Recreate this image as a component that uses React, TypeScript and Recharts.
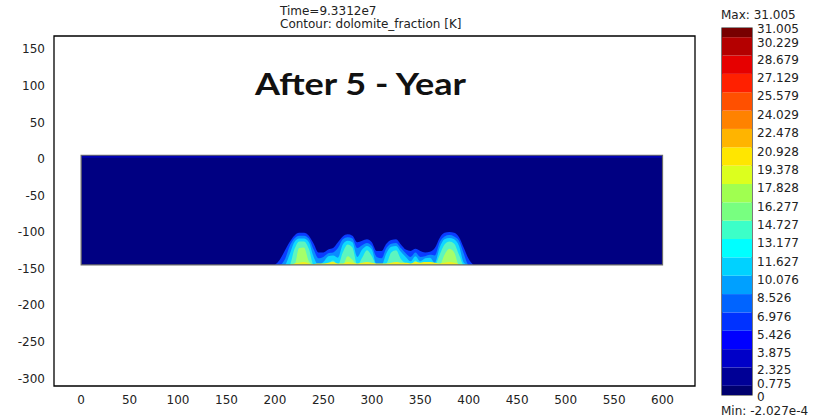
import React from "react";
import {
  Area,
  Bar,
  BarChart,
  ComposedChart,
  ReferenceArea,
  XAxis,
  YAxis,
} from "recharts";

// axes
const xTicks = [0, 50, 100, 150, 200, 250, 300, 350, 400, 450, 500, 550, 600];
const yTicks = [150, 100, 50, 0, -50, -100, -150, -200, -250, -300];

// model domain (dolomite_fraction field)
const fieldX = [0, 600];
const fieldY = [-145, 5];

// plume contours (top of each contour level at x)
const plumeX = [
  200, 205, 210, 215, 220, 225, 230, 235, 240, 245, 250, 255, 260, 265, 270,
  275, 280, 285, 290, 295, 300, 305, 310, 315, 320, 325, 330, 335, 340, 345,
  350, 355, 360, 365, 370, 375, 380, 385, 390, 395, 400, 405,
];
const halo = [
  -145, -138, -126, -114, -105, -101, -101, -105, -116, -128, -128, -124, -122, -114, -106,
  -103, -105, -114, -112, -110, -114, -126, -126, -116, -111, -110, -117, -124, -126, -123,
  -126, -128, -127, -122, -108, -101, -100, -101, -107, -122, -137, -145,
];
const blue = [
  -145, -145, -138, -120, -109, -105, -105, -109, -124, -136, -134, -129, -128, -122, -110,
  -107, -109, -122, -118, -115, -119, -134, -136, -122, -116, -115, -122, -129, -134, -128,
  -134, -133, -131, -132, -114, -106, -104, -106, -112, -130, -145, -145,
];
const cyan = [
  -145, -145, -145, -131, -114, -109, -109, -114, -134, -145, -141, -133, -132, -135, -117,
  -112, -114, -134, -124, -119, -124, -145, -145, -129, -120, -119, -127, -134, -140, -133,
  -140, -136, -135, -142, -121, -110, -108, -110, -119, -142, -145, -145,
];
const green = [
  -145, -145, -145, -145, -124, -113, -113, -123, -145, -145, -145, -143, -139, -145, -128,
  -117, -121, -145, -135, -125, -133, -145, -145, -143, -128, -125, -137, -143, -145, -139,
  -145, -143, -141, -145, -131, -117, -113, -116, -131, -145, -145, -145,
];
const core = [
  -145, -145, -145, -145, -145, -122, -121, -140, -145, -145, -145, -145, -145, -145, -145,
  -133, -138, -145, -145, -145, -145, -145, -145, -145, -145, -142, -145, -145, -145, -145,
  -145, -145, -145, -145, -145, -131, -123, -128, -145, -145, -145, -145,
];
const stems = [
  -145, -145, -145, -145, -143, -142, -141, -143, -144, -143, -143, -142, -141, -143, -143,
  -141, -142, -143, -142, -141, -142, -143, -143, -143, -142, -141, -142, -142, -143, -141,
  -142, -141, -141, -142, -143, -142, -141, -142, -144, -145, -145, -145,
];

// colour bar
const cbBounds = [
  0, 0.775, 2.325, 3.875, 5.426, 6.976, 8.526, 10.076, 11.627, 13.177, 14.727,
  16.277, 17.828, 19.378, 20.928, 22.478, 24.029, 25.579, 27.129, 28.679, 30.229, 31.005,
];
const cbColors = [
  "#00006e", "#000096", "#0000c8", "#0000ff", "#0032ff", "#0064ff", "#00a0ff",
  "#00d2ff", "#00ffff", "#3cffc8", "#78ff80", "#a0ff50", "#dcff1e", "#ffe600",
  "#ffb400", "#ff8200", "#ff5000", "#ff2000", "#e60000", "#b40000", "#780000",
];

const rows: any[] = [
  { x: fieldX[0], field: fieldY[1] },
  ...plumeX.map((x, i) => ({
    x,
    field: fieldY[1],
    halo: halo[i],
    blue: blue[i],
    cyan: cyan[i],
    green: green[i],
    core: core[i],
    stems: stems[i],
  })),
  { x: fieldX[1], field: fieldY[1] },
];

const cbRow: any = { name: "cb" };
cbBounds.slice(1).forEach((b, i) => {
  cbRow[`b${i}`] = b - cbBounds[i];
});

const font = "DejaVu Sans, Verdana, sans-serif";
const tickStyle = { fill: "#222", fontSize: 12, fontFamily: font };

const levels = [
  { key: "halo", color: "#0a3cff" },
  { key: "blue", color: "#0a8cff" },
  { key: "cyan", color: "#10d8ff" },
  { key: "green", color: "#5cf5c0" },
  { key: "core", color: "#a6ff6a" },
  { key: "stems", color: "#f2ee20" },
];

const CbTick = (props: any) => {
  const { x, y, payload, index } = props;
  const last = cbBounds.length - 1;
  let off = 4;
  if (index === 0) off = 1.5;
  else if (index === 1) off = -2;
  else if (index === 2) off = 2;
  else if (index === last) off = 0.5;
  else if (index === last - 1) off = 5.5;
  return (
    <text x={x} y={y + off} dy="0.355em" textAnchor="start" {...tickStyle}>
      {String(payload.value)}
    </text>
  );
};

export default function App() {
  return (
    <div style={{ position: "fixed", left: 0, top: 0, width: 828, height: 420, background: "#fff" }}>
      <div style={{ position: "absolute", left: 0, top: 0 }}>
        <ComposedChart
          width={828}
          height={420}
          data={rows}
          margin={{ top: 36, right: 133, bottom: 0, left: 0 }}
        >
          <XAxis
            dataKey="x"
            type="number"
            domain={[-28, 633.5]}
            ticks={xTicks}
            interval={0}
            allowDataOverflow
            axisLine={false}
            tickLine={false}
            tickSize={0}
            tickMargin={9}
            height={34}
            tick={tickStyle}
          />
          <YAxis
            type="number"
            domain={[-310.5, 168]}
            ticks={yTicks}
            interval={0}
            allowDataOverflow
            axisLine={false}
            tickLine={false}
            tickSize={0}
            tickMargin={9}
            width={54}
            tick={tickStyle}
          />
          <Area
            dataKey="field"
            type="linear"
            baseValue={fieldY[0]}
            fill="#000082"
            fillOpacity={1}
            stroke="none"
            isAnimationActive={false}
          />
          {levels.map((l) => (
            <Area
              key={l.key}
              dataKey={l.key}
              type="monotone"
              baseValue={fieldY[0]}
              fill={l.color}
              fillOpacity={1}
              stroke="none"
              isAnimationActive={false}
            />
          ))}
          <ReferenceArea
            x1={fieldX[0]}
            x2={fieldX[1]}
            y1={1.5}
            y2={fieldY[1]}
            fill="#0000b4"
            fillOpacity={1}
            stroke="none"
          />
          <ReferenceArea
            x1={fieldX[0]}
            x2={fieldX[1]}
            y1={fieldY[0]}
            y2={fieldY[1]}
            fill="none"
            stroke="#6b6b6b"
            strokeWidth={1.2}
          />
          <ReferenceArea
            x1={-28}
            x2={633.5}
            y1={-310.5}
            y2={168}
            fill="none"
            stroke="#000"
            strokeWidth={1.3}
          />
        </ComposedChart>
      </div>
      <div style={{ position: "absolute", left: 0, top: 0 }}>
        <BarChart
          width={828}
          height={420}
          data={[cbRow]}
          margin={{ top: 28, right: 0, bottom: 25, left: 722 }}
          barCategoryGap={0}
        >
          <XAxis dataKey="name" hide />
          <YAxis
            orientation="right"
            type="number"
            domain={[0, 31.005]}
            ticks={cbBounds}
            interval={0}
            allowDataOverflow
            axisLine={false}
            tickLine={false}
            tickSize={0}
            tickMargin={5}
            width={76}
            tick={<CbTick />}
          />
          {cbColors.map((c, i) => (
            <Bar key={i} dataKey={`b${i}`} stackId="cb" fill={c} isAnimationActive={false} />
          ))}
          <ReferenceArea y1={0} y2={31.005} fill="none" stroke="#222" strokeWidth={1.2} />
        </BarChart>
      </div>
      <svg
        width={828}
        height={420}
        style={{ position: "absolute", left: 0, top: 0, pointerEvents: "none" }}
      >
        <text x={280} y={15} {...tickStyle}>Time=9.3312e7</text>
        <text x={280} y={28} {...tickStyle}>Contour: dolomite_fraction [K]</text>
        <text x={721} y={18.5} {...tickStyle}>Max: 31.005</text>
        <text x={721} y={415} {...tickStyle}>Min: -2.027e-4</text>
        <text
          x={255}
          y={95}
          fontFamily="Lato, Carlito, sans-serif"
          fontWeight={700}
          fontSize={31}
          fill="#111"
          textLength={211}
          lengthAdjust="spacingAndGlyphs"
        >
          After 5 - Year
        </text>
      </svg>
    </div>
  );
}
